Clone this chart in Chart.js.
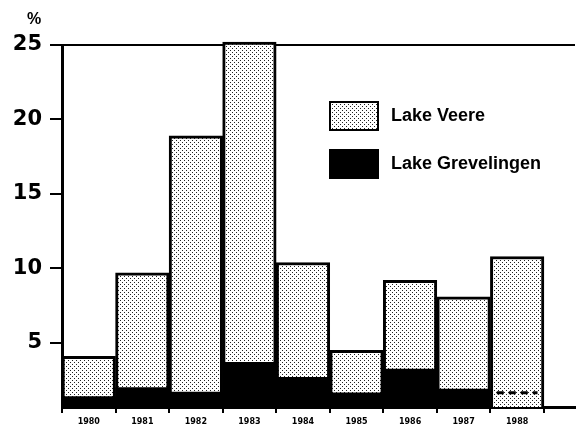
<!DOCTYPE html>
<html>
<head>
<meta charset="utf-8">
<script src="https://cdn.jsdelivr.net/npm/chart.js@4"></script>
<style>
  body { margin: 0; background: #fff; }
  #wrap { width: 577px; height: 437px; }
</style>
</head>
<body>
<div id="wrap"><canvas id="chart"></canvas></div>
<script>
// data (%)
const years = [1980, 1981, 1982, 1983, 1984, 1985, 1986, 1987, 1988];
const veere = [4.1, 9.7, 18.9, 25.2, 10.4, 4.5, 9.2, 8.1, 10.8];
const grevelingen = [1.4, 2.0, 1.7, 3.7, 2.7, 1.65, 3.25, 1.9, 1.65];
const grevDashed = [false, false, false, false, false, false, false, false, true];
const yTicks = [5, 10, 15, 20, 25];

// stipple fill
function stipple() {
    const c = document.createElement('canvas');
    c.width = 4;
    c.height = 4;
    const g = c.getContext('2d');
    g.fillStyle = '#fff';
    g.fillRect(0, 0, 4, 4);
    g.fillStyle = '#222';
    g.fillRect(0, 0, 1, 1);
    g.fillRect(2, 2, 1, 1);
    return g.createPattern(c, 'repeat');
}
const dots = stipple();

// legend inside the plot + "%" label
const extras = {
    id: 'extras',
    afterDraw(chart) {
        const ctx = chart.ctx;
        ctx.save();
        ctx.fillStyle = '#000';
        ctx.font = 'bold 16px "Liberation Sans"';
        ctx.textBaseline = 'alphabetic';
        ctx.fillText('%', 27, 24);

        const items = [chart.data.datasets[0], chart.data.datasets[1]];
        items.forEach((ds, i) => {
            const y = 102 + i * 48;
            ctx.fillStyle = ds.backgroundColor;
            ctx.fillRect(330, y, 48, 28);
            ctx.lineWidth = 2;
            ctx.strokeStyle = '#000';
            ctx.strokeRect(330, y, 48, 28);
            ctx.fillStyle = '#000';
            ctx.font = 'bold 18px "Liberation Sans"';
            ctx.textBaseline = 'middle';
            ctx.fillText(ds.label, 391, y + 14);
        });
        ctx.restore();
    }
};

new Chart(document.getElementById('chart'), {
    type: 'bar',
    data: {
        datasets: [{
            label: 'Lake Veere',
            data: years.map((yr, i) => ({ x: yr, y: veere[i] })),
            backgroundColor: dots,
            borderColor: '#000',
            borderWidth: 3,
            borderSkipped: false,
            barPercentage: 1,
            categoryPercentage: 1,
            grouped: false,
            clip: { left: 0, top: 8, right: 0, bottom: 0 },
            order: 2
        }, {
            label: 'Lake Grevelingen',
            data: years.map((yr, i) => ({ x: yr, y: grevDashed[i] ? null : grevelingen[i] })),
            backgroundColor: '#000',
            borderWidth: 0,
            barPercentage: 1,
            categoryPercentage: 1,
            grouped: false,
            order: 1
        }, {
            type: 'line',
            label: 'dashed',
            data: years.flatMap((yr, i) => grevDashed[i]
                ? [{ x: yr - 0.38, y: grevelingen[i] }, { x: yr + 0.38, y: grevelingen[i] }]
                : []),
            borderColor: '#000',
            borderWidth: 3,
            borderDash: [7, 5],
            pointRadius: 0,
            order: 0
        }]
    },
    options: {
        responsive: true,
        maintainAspectRatio: false,
        animation: false,
        layout: { padding: { top: 45, right: 2, left: 0, bottom: 0 } },
        plugins: {
            legend: { display: false },
            tooltip: { enabled: false }
        },
        scales: {
            x: {
                type: 'linear',
                offset: false,
                min: 1979.5,
                max: 1989.08,
                afterBuildTicks: s => { s.ticks = years.map(v => ({ value: v })); },
                afterFit: s => { s.height = 30; },
                border: { display: true, color: '#000', width: 3 },
                grid: {
                    offset: true,
                    drawOnChartArea: false,
                    tickLength: 6,
                    tickColor: '#000',
                    lineWidth: 2
                },
                ticks: {
                    color: '#000',
                    padding: 4,
                    maxRotation: 0,
                    autoSkip: false,
                    font: { family: 'DejaVu Sans', weight: 'bold', size: 8 },
                    callback: v => String(v)
                }
            },
            y: {
                min: 0.7,
                max: 25,
                afterBuildTicks: s => { s.ticks = yTicks.map(v => ({ value: v })); },
                afterFit: s => { s.width = 62; },
                border: { display: true, color: '#000', width: 3 },
                grid: {
                    color: c => (c.tick && c.tick.value === 25) ? '#000' : 'rgba(0,0,0,0)',
                    tickColor: '#000',
                    lineWidth: 2,
                    tickLength: 12
                },
                ticks: {
                    color: '#000',
                    padding: 8,
                    font: { family: 'DejaVu Sans', weight: 'bold', size: 21 }
                }
            }
        }
    },
    plugins: [extras]
});
</script>
</body>
</html>
